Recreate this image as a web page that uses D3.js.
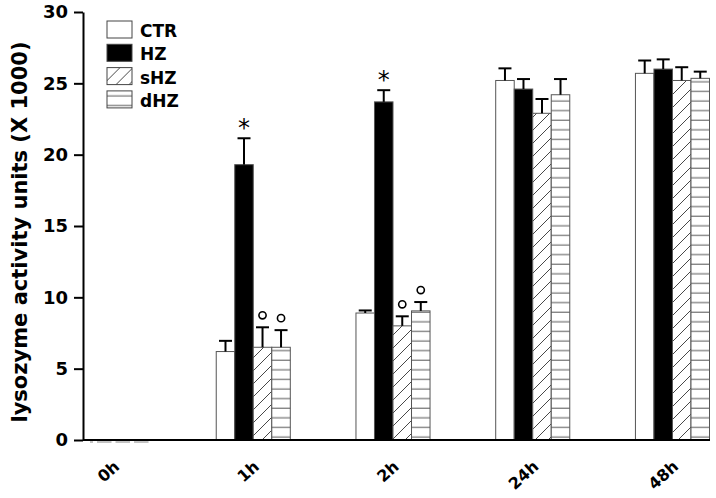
<!DOCTYPE html>
<html>
<head>
<meta charset="utf-8">
<script src="https://cdn.jsdelivr.net/npm/d3@7"></script>
<style>
  body { margin: 0; background: #fff; }
  svg text { font-family: "DejaVu Sans", Verdana, sans-serif; font-weight: bold; }
</style>
</head>
<body>
<div id="chart"></div>
<script>
var times = ["0h", "1h", "2h", "24h", "48h"];
var groups = ["CTR", "HZ", "sHZ", "dHZ"];

// means (x 1000) per time point, one array per treatment
var ctr = [0, 6.2, 8.9, 25.2, 25.7];
var hz  = [0, 19.3, 23.7, 24.6, 26.0];
var shz = [0, 6.5, 8.0, 22.9, 25.2];
var dhz = [0, 6.5, 9.05, 24.2, 25.35];

// standard errors
var ctrErr = [0, 0.75, 0.18, 0.85, 0.9];
var hzErr  = [0, 1.85, 0.82, 0.7, 0.68];
var shzErr = [0, 1.4, 0.67, 1.0, 0.93];
var dhzErr = [0, 1.2, 0.62, 1.1, 0.47];

// significance marks
var marks = [
  ["1h", "HZ", "*"], ["2h", "HZ", "*"],
  ["1h", "sHZ", "o"], ["1h", "dHZ", "o"],
  ["2h", "sHZ", "o"], ["2h", "dHZ", "o"]
];

var yTicks = [0, 5, 10, 15, 20, 25, 30];

var width = 716, height = 498;

var svg = d3.select("#chart").append("svg")
    .attr("width", width)
    .attr("height", height);

var defs = svg.append("defs");
var diag = defs.append("pattern")
    .attr("id", "diag")
    .attr("patternUnits", "userSpaceOnUse")
    .attr("width", 13).attr("height", 13);
diag.append("rect").attr("width", 13).attr("height", 13).attr("fill", "#fff");
diag.append("path")
    .attr("d", "M-1,14 L14,-1 M-7,7 L7,-7 M6,20 L20,6")
    .attr("stroke", "#333").attr("stroke-width", 0.9);

var horiz = defs.append("pattern")
    .attr("id", "horiz")
    .attr("patternUnits", "userSpaceOnUse")
    .attr("width", 10).attr("height", 9.6);
horiz.append("rect").attr("width", 10).attr("height", 9.6).attr("fill", "#fff");
horiz.append("line")
    .attr("x1", 0).attr("x2", 10).attr("y1", 5).attr("y2", 5)
    .attr("stroke", "#555").attr("stroke-width", 1);

var fills = { CTR: "#fff", HZ: "#000", sHZ: "url(#diag)", dHZ: "url(#horiz)" };

var data = [];
times.forEach(function(t, i) {
  data.push({ time: t, group: "CTR", v: ctr[i], e: ctrErr[i] });
  data.push({ time: t, group: "HZ", v: hz[i], e: hzErr[i] });
  data.push({ time: t, group: "sHZ", v: shz[i], e: shzErr[i] });
  data.push({ time: t, group: "dHZ", v: dhz[i], e: dhzErr[i] });
});

var x0 = d3.scaleBand()
    .domain(times)
    .range([76.5, 709.5])
    .paddingInner(0.47)
    .paddingOuter(0);

var x1 = d3.scaleBand()
    .domain(groups)
    .range([0, x0.bandwidth()]);

var y = d3.scaleLinear()
    .domain([0, 30])
    .range([440, 12]);

// bars
var bars = svg.append("g");
bars.selectAll("rect")
  .data(data)
  .enter().append("rect")
    .attr("x", function(d) { return x0(d.time) + x1(d.group); })
    .attr("y", function(d) { return y(d.v); })
    .attr("width", x1.bandwidth())
    .attr("height", function(d) { return y(0) - y(d.v); })
    .attr("fill", function(d) { return fills[d.group]; })
    .attr("stroke", "#555")
    .attr("stroke-width", 1);

// zero bars at 0h show as short dashes just under the axis
bars.selectAll("line.zero")
  .data(data.filter(function(d) { return d.v == 0; }))
  .enter().append("line")
    .attr("class", "zero")
    .attr("x1", function(d) { return Math.max(90, x0(d.time) + x1(d.group) + 2); })
    .attr("x2", function(d) { return x0(d.time) + x1(d.group) + x1.bandwidth() - 2; })
    .attr("y1", y(0) + 2).attr("y2", y(0) + 2)
    .attr("stroke", "#888").attr("stroke-width", 1);

// error bars
var errs = svg.append("g")
    .attr("stroke", "#000")
    .attr("stroke-width", 2);
data.filter(function(d) { return d.e > 0; }).forEach(function(d) {
  var cx = x0(d.time) + x1(d.group) + x1.bandwidth() / 2;
  errs.append("line")
    .attr("x1", cx).attr("x2", cx)
    .attr("y1", y(d.v)).attr("y2", y(d.v + d.e));
  errs.append("line")
    .attr("x1", cx - 6.5).attr("x2", cx + 6.5)
    .attr("y1", y(d.v + d.e)).attr("y2", y(d.v + d.e));
});

// significance marks
marks.forEach(function(m) {
  var d = data.filter(function(r) { return r.time == m[0] && r.group == m[1]; })[0];
  var cx = x0(d.time) + x1(d.group) + x1.bandwidth() / 2;
  if (m[2] == "*") {
    svg.append("text")
      .attr("x", cx).attr("y", y(d.v + d.e) - 2)
      .attr("text-anchor", "middle")
      .style("font-weight", "normal")
      .style("font-size", "24px")
      .text("*");
  } else {
    svg.append("circle")
      .attr("cx", cx).attr("cy", y(d.v + d.e) - 12)
      .attr("r", 3.6)
      .attr("fill", "none")
      .attr("stroke", "#000")
      .attr("stroke-width", 1.6);
  }
});

// y axis
var yAxis = svg.append("g")
    .attr("transform", "translate(83,0)")
    .call(d3.axisLeft(y).tickValues(yTicks).tickSize(9).tickPadding(6).tickSizeOuter(0));
yAxis.select(".domain").attr("stroke-width", 2);
yAxis.selectAll(".tick line").attr("stroke-width", 2);
yAxis.selectAll(".tick text")
    .style("font-size", "18px")
    .attr("fill", "#000");

// x axis
var xAxis = svg.append("g")
    .attr("transform", "translate(0,440)")
    .call(d3.axisBottom(x0).tickSize(0).tickPadding(0));
xAxis.select(".domain").remove();
xAxis.append("line")
    .attr("x1", 83).attr("x2", 710)
    .attr("stroke", "#000").attr("stroke-width", 2);
xAxis.selectAll(".tick text")
    .style("font-size", "16px")
    .attr("fill", "#000")
    .attr("text-anchor", "end")
    .attr("dy", null)
    .attr("y", null)
    .attr("transform", "translate(7,28) rotate(-42)");

// y title
svg.append("text")
    .attr("transform", "translate(27,232) rotate(-90)")
    .attr("text-anchor", "middle")
    .style("font-size", "21px")
    .text("lysozyme activity units (X 1000)");

// legend
var legend = svg.append("g").attr("transform", "translate(107,21)");
groups.forEach(function(g, i) {
  var row = legend.append("g").attr("transform", "translate(0," + (i * 23.3) + ")");
  row.append("rect")
    .attr("width", 25).attr("height", 17)
    .attr("fill", fills[g])
    .attr("stroke", "#444").attr("stroke-width", 1);
  row.append("text")
    .attr("x", 33).attr("y", 16)
    .style("font-size", "17px")
    .text(g);
});
</script>
</body>
</html>
